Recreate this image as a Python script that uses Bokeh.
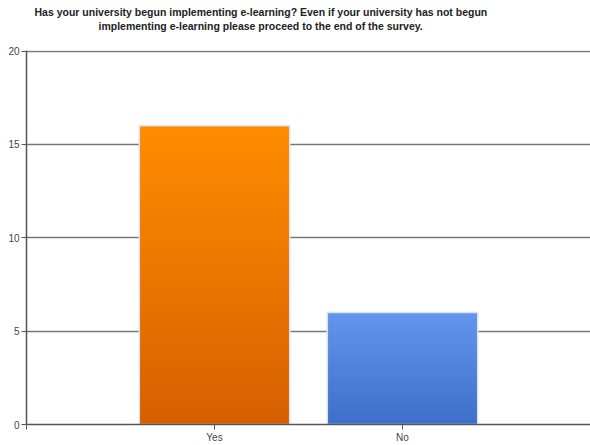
from bokeh.plotting import figure
from bokeh.models import Range1d, FixedTicker, Title
from bokeh.embed import file_html
from bokeh.resources import INLINE

categories = ["Yes", "No"]
values = [16, 6]
y_ticks = [0, 5, 10, 15, 20]
title_lines = ["Has your university begun implementing e-learning? Even if your university has not begun",
               "implementing e-learning please proceed to the end of the survey."]

top_colors = [(255, 140, 0), (100, 149, 237)]
bottom_colors = [(214, 96, 0), (61, 111, 201)]

p = figure(width=590, height=445, output_backend="svg", toolbar_location=None,
           x_range=Range1d(0, 3), y_range=Range1d(0, 20.03),
           min_border_left=26, min_border_right=0, min_border_top=50, min_border_bottom=19)
p.outline_line_color = None
p.background_fill_color = "white"

spacer = Title(text=" ", text_font_size="1px", standoff=16)
t2 = Title(text=title_lines[1], align="left", text_font="Liberation Sans", text_font_size="10.5px",
           text_font_style="bold", text_color="#222222", offset=72, standoff=0, text_line_height=1.0)
t1 = Title(text=title_lines[0], align="left", text_font="Liberation Sans", text_font_size="10.5px",
           text_font_style="bold", text_color="#222222", offset=8, standoff=0, text_line_height=1.0)
p.add_layout(spacer, "above")
p.add_layout(t2, "above")
p.add_layout(t1, "above")

xs = [i + 1 for i in range(len(categories))]
n = 60
for x, v, tc, bc in zip(xs, values, top_colors, bottom_colors):
    step = v / n
    for k in range(n, 0, -1):
        t = (k - 0.5) / n
        c = tuple(int(round(bc[j] + (tc[j] - bc[j]) * t)) for j in range(3))
        p.vbar(x=[x], bottom=[0], top=[k * step],
               width=0.8, fill_color="#%02x%02x%02x" % c, line_color=None)
    p.vbar(x=[x], top=[v], width=0.8, fill_color=None, line_color="#d8e4f0", line_width=1.5)

p.xaxis.ticker = FixedTicker(ticks=[0] + xs + [3])
p.xaxis.major_label_overrides = {0: "", 3: "", **{x: c for x, c in zip(xs, categories)}}
p.yaxis.ticker = FixedTicker(ticks=y_ticks)
for ax in (p.xaxis, p.yaxis):
    ax.axis_line_color = "#555555"
    ax.axis_line_width = 1.5
    ax.major_tick_line_color = "#555555"
    ax.major_tick_in = 0
    ax.major_tick_out = 5
    ax.minor_tick_line_color = None
    ax.major_label_text_font = "Liberation Sans"
    ax.major_label_text_font_size = "10px"
    ax.major_label_text_color = "#444444"
    ax.major_label_standoff = 2
p.xgrid.grid_line_color = None
p.ygrid.ticker = FixedTicker(ticks=y_ticks)
p.ygrid.grid_line_color = "#777777"
p.ygrid.grid_line_width = 1.5
p.ygrid.level = "underlay"

open("out.html", "w").write(file_html(p, INLINE))
